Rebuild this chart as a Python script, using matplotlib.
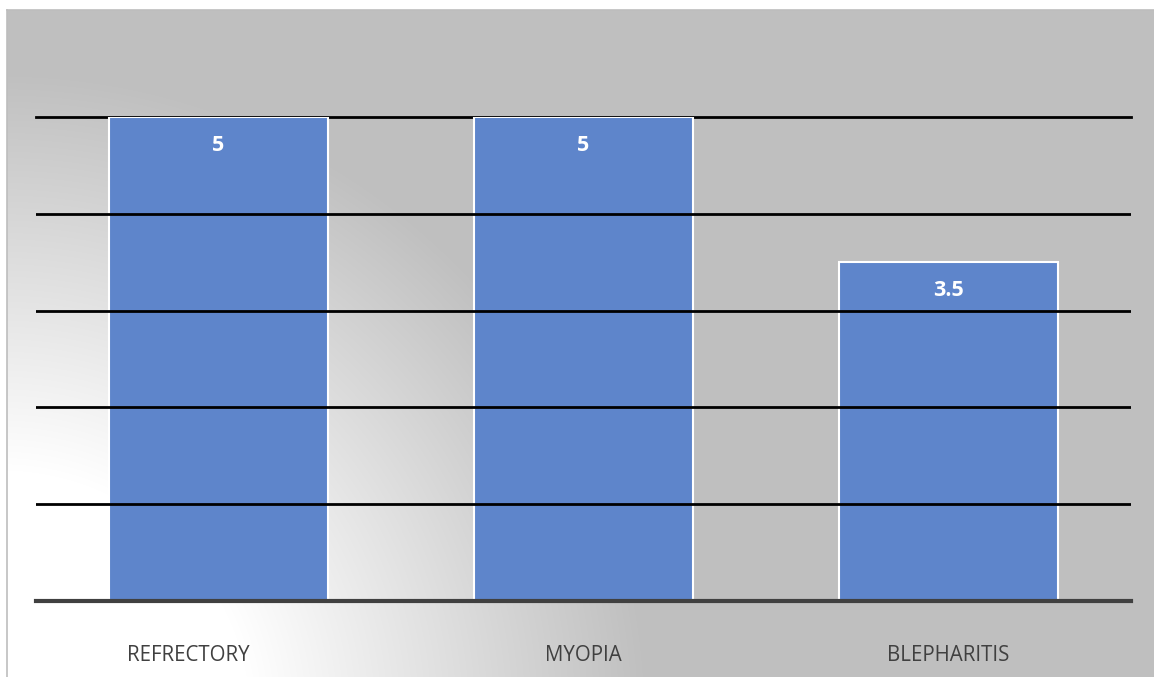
import numpy as np
import matplotlib
matplotlib.use("Agg")
import matplotlib.pyplot as plt
from matplotlib.lines import Line2D

# Data
categories = ["REFRECTORY", "MYOPIA", "BLEPHARITIS"]
values = [5, 5, 3.5]
value_labels = ["5", "5", "3.5"]

W, H = 1154, 677
DPI = 100
fig = plt.figure(figsize=(W / DPI, H / DPI), dpi=DPI, facecolor="white")

# Panel background: grey with a soft white glow from the lower-left corner
px0, py0 = 7, 10  # panel left / top in pixels
bg = fig.add_axes([px0 / W, 0, 1 - px0 / W, (H - py0) / H], zorder=0)
bg.set_axis_off()
pw, ph = W - px0, H - py0
xx, yy = np.meshgrid(np.arange(pw) + px0, np.arange(ph) + py0)
r = np.sqrt((xx - 0.0) ** 2 + (yy - 720.0) ** 2)
f = np.clip((650.0 - r) / 400.0, 0, 1)
shade = (191 + (255 - 191) * f) / 255.0
img = np.dstack([shade, shade, shade])
bg.imshow(img, aspect="auto", extent=[0, 1, 0, 1], origin="upper",
          interpolation="bilinear")
bg.set_xlim(0, 1)
bg.set_ylim(0, 1)

# Panel border (left and top)
fig.add_artist(Line2D([px0 / W, px0 / W], [0, (H - py0) / H],
                      transform=fig.transFigure, color="#BDBDBD", lw=1.2))
fig.add_artist(Line2D([px0 / W, 1], [(H - py0) / H, (H - py0) / H],
                      transform=fig.transFigure, color="#BDBDBD", lw=1.2))

# Plot area
left, right = 36, 1131
y_zero, y_top = 601, 117
ax = fig.add_axes([left / W, (H - y_zero) / H, (right - left) / W,
                   (y_zero - y_top) / H], zorder=1)
ax.patch.set_alpha(0)

x = np.arange(len(categories))
bars = ax.bar(x, values, width=0.6, color="#5E85CB", edgecolor="white",
              linewidth=1.5, zorder=2)
ax.set_xlim(-0.5, len(categories) - 0.5)
ax.set_ylim(0, 5)

# Horizontal gridlines (inner ones drawn over the bars)
for gy in [1, 2, 3, 4]:
    ax.axhline(gy, color="black", lw=2, zorder=3)
ax.axhline(5, color="black", lw=2, zorder=1, clip_on=False)

for s in ["top", "right", "left"]:
    ax.spines[s].set_visible(False)
ax.spines["bottom"].set_color("#404040")
ax.spines["bottom"].set_linewidth(3)
ax.spines["bottom"].set_zorder(4)
ax.set_yticks([])
ax.set_xticks([])

# Value labels inside bar tops
for xi, v, lab in zip(x, values, value_labels):
    ax.annotate(lab, xy=(xi, v), xytext=(0, -20.5), textcoords="offset points",
                ha="center", va="center", color="white", fontsize=15.5,
                fontweight="bold", family="Open Sans", zorder=5)

# Category labels below the axis (the first one sits a little left of its bar)
label_shift_px = [-30, 0, 0]
for xi, c, dx in zip(x, categories, label_shift_px):
    ax.annotate(c, xy=(xi, 0), xytext=(dx * 72 / DPI, -39.5),
                textcoords="offset points", ha="center", va="center",
                color="#404040", fontsize=14.8, family="Open Sans",
                annotation_clip=False)

fig.savefig("out.png", dpi=DPI, facecolor="white")
